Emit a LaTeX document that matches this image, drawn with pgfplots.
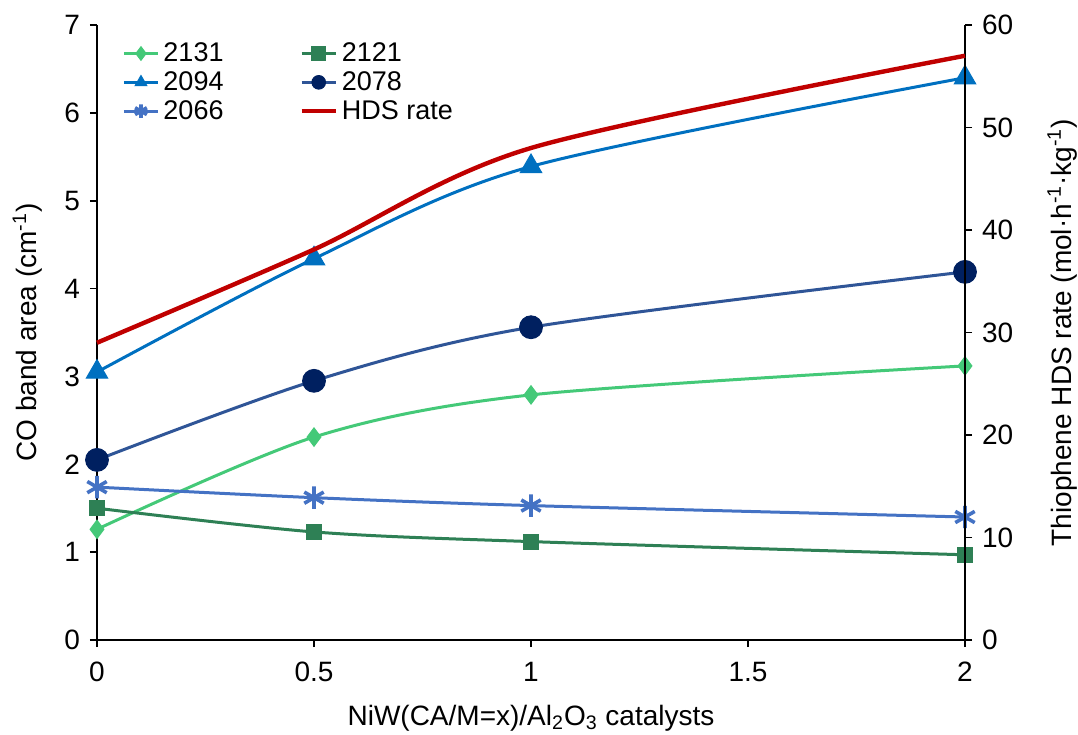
\documentclass[border=0pt]{standalone}
\usepackage{fontspec}
\setmainfont{Liberation Sans}
\usepackage{pgfplots}
\pgfplotsset{compat=1.18}
\definecolor{cA}{RGB}{68,201,120}
\definecolor{cB}{RGB}{46,128,85}
\definecolor{cC}{RGB}{0,112,192}
\definecolor{cDm}{RGB}{0,32,96}
\definecolor{cDl}{RGB}{47,85,151}
\definecolor{cE}{RGB}{68,114,196}
\definecolor{cF}{RGB}{192,0,0}
\begin{document}
\begin{tikzpicture}
\path[use as bounding box] (-48.5bp,-47.5bp) rectangle (490.5bp,320bp);
\pgfplotsset{
  base/.style={
    scale only axis, width=434bp, height=307.5bp,
    xmin=0, xmax=2, clip=false,
    tick align=outside, major tick length=3.5bp,
    every tick/.style={black, line width=0.9bp},
    axis line style={black, line width=1bp},
    tick label style={font=\fontsize{14bp}{16bp}\selectfont},
    label style={font=\fontsize{14bp}{16bp}\selectfont},
    /pgf/number format/assume math mode=true,
  }
}
\begin{axis}[base,
  axis x line*=bottom, axis y line*=left,
  ymin=0, ymax=7, ytick={0,1,...,7},
  xtick={0,0.5,1,1.5,2},
  xticklabels={0,0.5,1,1.5,2},
  xticklabel style={yshift=-4bp},
  yticklabel style={xshift=-1.5bp},
  xlabel={NiW(CA/M=x)/Al\textsubscript{2}O\textsubscript{3} catalysts},
  ylabel={CO band area (cm\textsuperscript{-1})},
  xlabel style={at={(axis description cs:0.5,-0.127)}, anchor=center},
  ylabel style={at={(axis description cs:-0.080,0.5)}, anchor=center, rotate=0},
  legend columns=2,
  legend cell align=left,
  legend image post style={mark size=3.4bp},
  legend style={draw=none, fill=none, at={(0.022,0.985)}, anchor=north west,
    font=\fontsize{13.5bp}{14bp}\selectfont, row sep=-0.5bp,
    /tikz/every even column/.append style={column sep=36bp}},
]
\addplot[cA, line width=1.5bp, smooth, mark=diamond*, mark size=4.6bp, mark options={fill=cA, draw=cA, line width=0.5bp}]
  coordinates {(0,1.26) (0.5,2.31) (1,2.79) (2,3.12)};
\addlegendentry{2131}
\addplot[cB, line width=1.5bp, smooth, mark=square*, mark size=3.7bp, mark options={fill=cB, draw=cB, line width=0.5bp}]
  coordinates {(0,1.50) (0.5,1.23) (1,1.12) (2,0.97)};
\addlegendentry{2121}
\addplot[cC, line width=1.5bp, smooth, mark=triangle*, mark size=6.2bp, mark options={fill=cC, draw=cC, line width=0.5bp}]
  coordinates {(0,3.05) (0.5,4.34) (1,5.39) (2,6.40)};
\addlegendentry{2094}
\addplot[cDl, line width=1.5bp, smooth, mark=*, mark size=5.7bp, mark options={fill=cDm, draw=cDm, line width=0.5bp}]
  coordinates {(0,2.05) (0.5,2.95) (1,3.56) (2,4.19)};
\addlegendentry{2078}
\addplot[cE, line width=1.5bp, smooth, mark=asterisk, mark size=5.6bp, mark options={draw=cE, line width=1.8bp}]
  coordinates {(0,1.74) (0.5,1.62) (1,1.53) (2,1.40)};
\addlegendentry{2066}
\addlegendimage{cF, line width=2.2bp}
\addlegendentry{HDS rate}
\end{axis}
\begin{axis}[base,
  axis x line=none, axis y line*=right,
  ymin=0, ymax=60, ytick={0,10,...,60},
  yticklabel style={xshift=1.5bp},
  ylabel={Thiophene HDS rate (mol\textperiodcentered h\textsuperscript{-1}\textperiodcentered kg\textsuperscript{-1})},
  ylabel style={at={(axis description cs:1.112,0.5)}, anchor=center, rotate=0},
]
\addplot[cF, line width=2.2bp, smooth, mark=none]
  coordinates {(0,29.0) (0.5,38.1) (1,48.0) (2,57.0)};
\end{axis}
\end{tikzpicture}
\end{document}
